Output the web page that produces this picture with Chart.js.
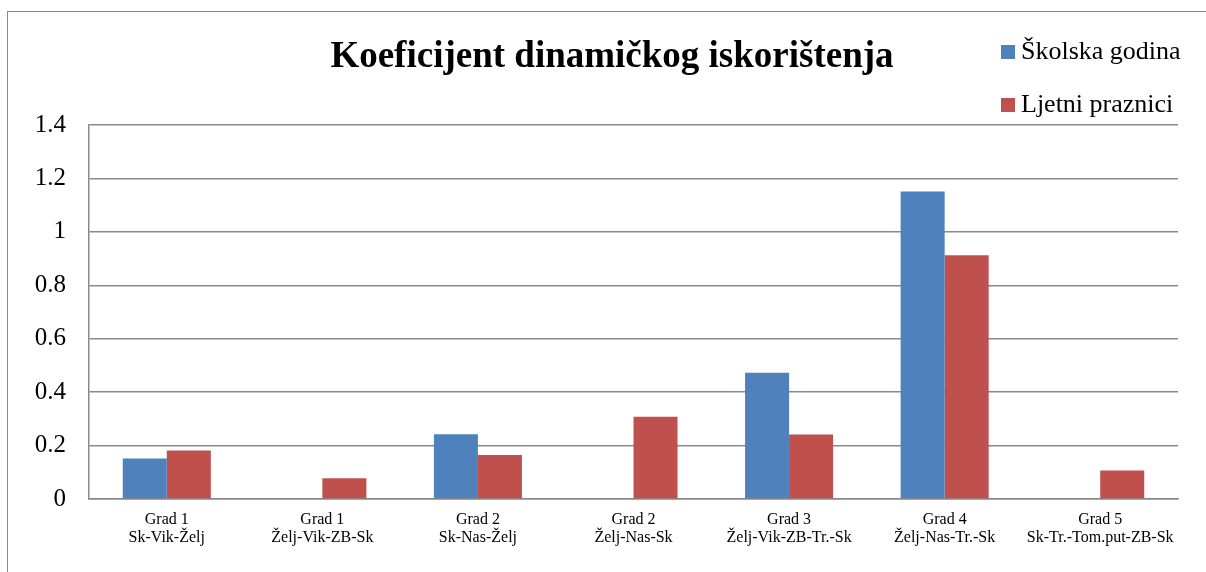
<!DOCTYPE html>
<html>
<head>
<meta charset="utf-8">
<script src="https://cdn.jsdelivr.net/npm/chart.js@4"></script>
<style>
html, body { margin: 0; padding: 0; background: #fff; }
#wrap { width: 1206px; height: 572px; }
</style>
</head>
<body>
<div id="wrap"><canvas id="bar"></canvas></div>
<script>
const ctx = document.getElementById('bar');

// Chart data
const chartTitle = 'Koeficijent dinamičkog iskorištenja';
const categories = [
    ['Grad 1', 'Sk-Vik-Želj'],
    ['Grad 1', 'Želj-Vik-ZB-Sk'],
    ['Grad 2', 'Sk-Nas-Želj'],
    ['Grad 2', 'Želj-Nas-Sk'],
    ['Grad 3', 'Želj-Vik-ZB-Tr.-Sk'],
    ['Grad 4', 'Želj-Nas-Tr.-Sk'],
    ['Grad 5', 'Sk-Tr.-Tom.put-ZB-Sk']
];
const skolskaGodina = [0.152, 0, 0.242, 0, 0.473, 1.151, 0];
const ljetniPraznici = [0.182, 0.078, 0.165, 0.308, 0.241, 0.912, 0.107];
const yMin = 0;
const yMax = 1.4;
const yStep = 0.2;

const serif = "'Liberation Serif', 'Times New Roman', serif";
const gridGray = '#898989';

// frame, title and the stacked legend at top right
const decorations = {
    id: 'decorations',
    afterDraw(chart) {
        const c = chart.ctx;
        c.save();
        c.strokeStyle = gridGray;
        c.lineWidth = 1;
        c.strokeRect(7.5, 11.5, 1300, 700);

        c.fillStyle = '#000';
        c.font = 'bold 37px ' + serif;
        c.textAlign = 'center';
        c.textBaseline = 'alphabetic';
        c.fillText(chartTitle, 612, 67);

        c.font = '26px ' + serif;
        c.textAlign = 'left';
        const rows = [59, 112];
        chart.data.datasets.forEach((ds, i) => {
            c.fillStyle = ds.backgroundColor;
            c.fillRect(1001, rows[i] - 14, 14, 14);
            c.fillStyle = '#000';
            c.fillText(ds.label, 1021, rows[i]);
        });
        c.restore();
    }
};

const data = {
    labels: categories,
    datasets: [
        {
            label: 'Školska godina',
            data: skolskaGodina,
            backgroundColor: '#4F81BD'
        },
        {
            label: 'Ljetni praznici',
            data: ljetniPraznici,
            backgroundColor: '#C0504D'
        }
    ]
};

const config = {
    type: 'bar',
    data: data,
    plugins: [decorations],
    options: {
        responsive: true,
        maintainAspectRatio: false,
        animation: false,
        categoryPercentage: 0.566,
        barPercentage: 1,
        layout: { padding: { top: 125, right: 28, bottom: 0, left: 0 } },
        plugins: {
            legend: { display: false },
            title: { display: false },
            tooltip: { enabled: false }
        },
        scales: {
            x: {
                afterFit: (s) => { s.height = 73; },
                grid: { display: false },
                border: { display: true, color: gridGray, width: 1.5 },
                ticks: {
                    color: '#000',
                    padding: 3,
                    maxRotation: 0,
                    autoSkip: false,
                    font: { family: serif, size: 16, lineHeight: 1.17 }
                }
            },
            y: {
                min: yMin,
                max: yMax,
                afterFit: (s) => { s.width = 89; },
                grid: { color: gridGray, lineWidth: 1.5, drawTicks: false },
                border: { display: true, color: gridGray, width: 1.5 },
                ticks: {
                    stepSize: yStep,
                    color: '#000',
                    padding: 23,
                    font: { family: serif, size: 25 },
                    callback: (v) => String(Math.round(v * 10) / 10)
                }
            }
        }
    }
};

new Chart(ctx, config);
</script>
</body>
</html>
